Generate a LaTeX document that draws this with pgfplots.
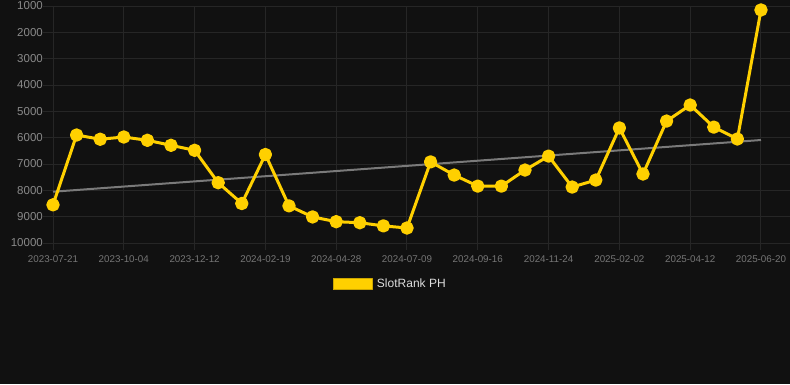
\documentclass[border=0pt]{standalone}
\usepackage{pgfplots}
\pgfplotsset{compat=1.18}
\usepackage{fontspec}
\setmainfont{Liberation Sans}
\definecolor{bg}{HTML}{111111}
\definecolor{gridc}{HTML}{262626}
\definecolor{ytick}{HTML}{8A8A8A}
\definecolor{xtick}{HTML}{767676}
\definecolor{lineyellow}{HTML}{FFD000}
\definecolor{trend}{HTML}{7A7A7A}
\definecolor{legtext}{HTML}{DDDDDD}
\begin{document}
\begin{tikzpicture}[x=1bp,y=1bp]
\fill[bg] (0,0) rectangle (790,384);
\begin{axis}[
  at={(53bp,141bp)}, anchor=south west,
  scale only axis, width=737bp, height=237bp,
  xmin=0, xmax=31.23,
  ymin=1000, ymax=10000, y dir=reverse,
  axis line style={draw=none},
  xtick={0,3,...,30},
  xticklabels={2023-07-21,2023-10-04,2023-12-12,2024-02-19,2024-04-28,2024-07-09,2024-09-16,2024-11-24,2025-02-02,2025-04-12,2025-06-20},
  ytick={1000,2000,...,10000},
  scaled y ticks=false,
  yticklabel style={font=\fontsize{11.5bp}{13bp}\selectfont, text=ytick, inner sep=0pt, xshift=-10bp},
  xticklabel style={font=\fontsize{9.8bp}{11bp}\selectfont, text=xtick, inner sep=0pt, anchor=north, yshift=-12bp},
  /pgf/number format/assume math mode=true,
  /pgf/number format/set thousands separator={},
  grid=major,
  major grid style={draw=gridc, line width=1bp},
  major tick length=0pt,
  clip=false,
  legend style={at={(0.3799,-0.173)}, anchor=west, draw=none, fill=none,
    inner sep=0pt, outer sep=0pt,
    font=\fontsize{12bp}{14bp}\selectfont, text=legtext,
    nodes={inner sep=4.5bp}},
  legend image code/.code={\fill[lineyellow, draw=lineyellow!80!black, line width=0.5bp] (0bp,-5.5bp) rectangle (39bp,5.5bp);},
]
\pgfplotsinvokeforeach{1000,2000,...,10000}{
  \draw[gridc, line width=1bp] (axis cs:0,#1) -- ++(-10bp,0bp);
}
\pgfplotsinvokeforeach{0,3,...,30}{
  \draw[gridc, line width=1bp] (axis cs:#1,10000) -- ++(0bp,-7bp);
}
\addplot[trend, line width=2bp, forget plot] coordinates {(0,8053) (30,6089)};
\addplot[lineyellow, line width=3bp, line join=round, mark=*, mark size=5.2bp, mark options={solid, fill=lineyellow, draw=none}] coordinates {
(0,8550) (1,5900) (2,6060) (3,5975) (4,6100) (5,6290) (6,6480) (7,7710)
(8,8500) (9,6640) (10,8590) (11,9010) (12,9190) (13,9230) (14,9350) (15,9430)
(16,6920) (17,7420) (18,7840) (19,7840) (20,7230) (21,6700) (22,7875) (23,7610)
(24,5630) (25,7380) (26,5370) (27,4760) (28,5600) (29,6050) (30,1150)
};
\addlegendentry{SlotRank PH}
\end{axis}
\pgfresetboundingbox
\useasboundingbox (0,0) rectangle (790,384);
\end{tikzpicture}
\end{document}
